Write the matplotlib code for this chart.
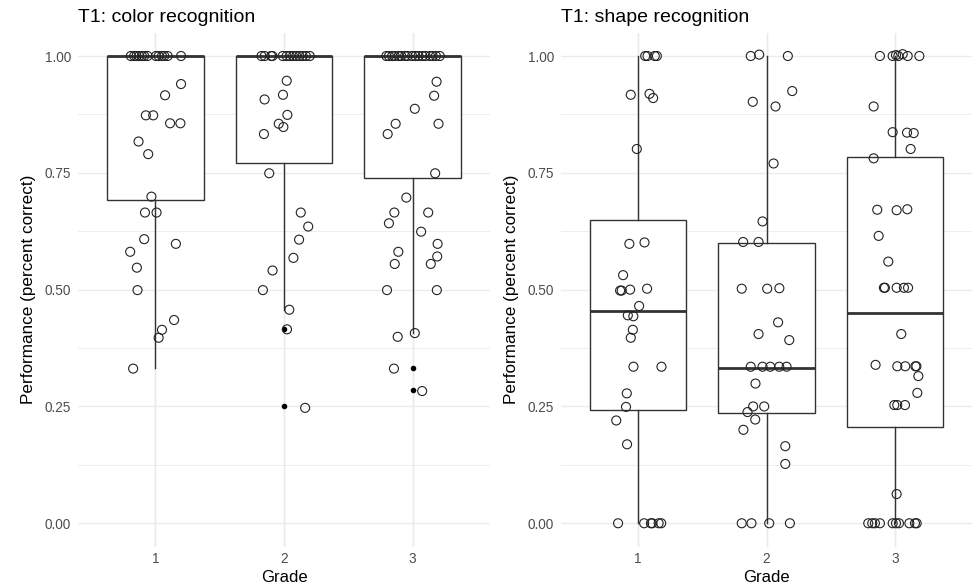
#!/usr/bin/env python3
"""
Boxplots with jittered points for T1 color / shape recognition by grade.
"""

from __future__ import annotations

import matplotlib

matplotlib.use("Agg")
import matplotlib.pyplot as plt
from matplotlib.ticker import MultipleLocator

plt.rcParams["font.family"] = ["Liberation Sans", "DejaVu Sans"]

grades = [1, 2, 3]
grade_labels = ["1", "2", "3"]
y_ticks = [0.0, 0.25, 0.5, 0.75, 1.0]
y_tick_labels = ["0.00", "0.25", "0.50", "0.75", "1.00"]

# --- T1 colour recognition: box statistics per grade ---
color_q1 = [0.691, 0.770, 0.738]
color_med = [1.0, 1.0, 1.0]
color_q3 = [1.0, 1.0, 1.0]
color_lo = [0.333, 0.457, 0.407]
color_hi = [1.0, 1.0, 1.0]
color_fliers = [[], [0.4167, 0.25], [0.3333, 0.2857]]

# --- T1 colour recognition: jittered observations (value, horizontal jitter) ---
color_g1_y = [1.0, 1.0, 1.0, 1.0, 1.0, 1.0, 1.0, 1.0, 1.0, 1.0, 1.0, 1.0, 1.0,
              0.94, 0.916, 0.873, 0.873, 0.856, 0.856, 0.817, 0.79, 0.699, 0.665,
              0.665, 0.608, 0.598, 0.581, 0.547, 0.499, 0.435, 0.414, 0.397, 0.331]
color_g1_dx = [-0.19, -0.164, -0.146, -0.125, -0.104, -0.086, -0.06, 0.005, 0.026, 0.052, 0.07, 0.096, 0.2,
               0.2, 0.076, -0.073, -0.016, 0.115, 0.195, -0.13, -0.055, -0.03, -0.08,
               0.01, -0.086, 0.16, -0.195, -0.143, -0.138, 0.146, 0.052, 0.026, -0.172]

color_g2_y = [1.0, 1.0, 1.0, 1.0, 1.0, 1.0, 1.0, 1.0, 1.0, 1.0, 1.0, 1.0, 1.0,
              0.947, 0.907, 0.917, 0.874, 0.855, 0.848, 0.833, 0.749, 0.665, 0.635,
              0.607, 0.568, 0.541, 0.499, 0.457, 0.415, 0.247]
color_g2_dx = [-0.175, -0.15, -0.1, -0.09, -0.01, 0.02, 0.045, 0.07, 0.095, 0.12, 0.145, 0.17, 0.2,
               0.021, -0.151, -0.008, 0.026, -0.041, -0.005, -0.156, -0.115, 0.13, 0.188,
               0.117, 0.073, -0.089, -0.164, 0.041, 0.023, 0.164]

color_g3_y = [1.0, 1.0, 1.0, 1.0, 1.0, 1.0, 1.0, 1.0, 1.0, 1.0, 1.0, 1.0, 1.0, 1.0, 1.0, 1.0, 1.0,
              0.945, 0.915, 0.887, 0.855, 0.855, 0.833, 0.749, 0.697, 0.665, 0.665, 0.642,
              0.624, 0.598, 0.581, 0.571, 0.555, 0.555, 0.499, 0.499, 0.407, 0.399, 0.331, 0.283]
color_g3_dx = [-0.205, -0.185, -0.16, -0.14, -0.11, -0.09, -0.06, -0.04, -0.005, 0.02, 0.045, 0.075,
               0.1, 0.135, 0.155, 0.18, 0.21,
               0.185, 0.166, 0.016, -0.133, 0.2, -0.195, 0.174, -0.05, -0.143, 0.12, -0.185,
               0.065, 0.193, -0.112, 0.19, -0.14, 0.14, -0.2, 0.187, 0.016, -0.117, -0.146, 0.073]

# --- T1 shape recognition: box statistics per grade ---
shape_q1 = [0.243, 0.235, 0.205]
shape_med = [0.455, 0.333, 0.451]
shape_q3 = [0.65, 0.60, 0.784]
shape_lo = [0.0, 0.0, 0.0]
shape_hi = [1.0, 1.0, 1.0]
shape_fliers = [[], [], []]

# --- T1 shape recognition: jittered observations ---
shape_g1_y = [1.0, 1.0, 1.0, 1.0, 0.917, 0.919, 0.91, 0.801, 0.598, 0.601, 0.531, 0.498, 0.498,
              0.5, 0.502, 0.465, 0.445, 0.443, 0.414, 0.397, 0.335, 0.335, 0.278, 0.249, 0.22,
              0.169, 0.0, 0.0, 0.0, 0.0, 0.0, 0.0]
shape_g1_dx = [0.055, 0.073, 0.13, 0.146, -0.057, 0.089, 0.117, -0.01, -0.068, 0.05, -0.117, -0.14, -0.128,
               -0.062, 0.07, 0.008, -0.08, -0.037, -0.041, -0.057, -0.036, 0.182, -0.088, -0.094, -0.17,
               -0.086, -0.156, 0.047, 0.1, 0.11, 0.16, 0.18]

shape_g2_y = [1.0, 1.003, 1.0, 0.925, 0.902, 0.892, 0.77, 0.646, 0.602, 0.602, 0.502, 0.502, 0.503,
              0.43, 0.405, 0.392, 0.335, 0.335, 0.335, 0.335, 0.335, 0.299, 0.25, 0.25, 0.238,
              0.222, 0.2, 0.165, 0.127, 0.0, 0.0, 0.0, 0.0]
shape_g2_dx = [-0.123, -0.057, 0.166, 0.2, -0.107, 0.07, 0.055, -0.031, -0.182, -0.062, -0.193, 0.005, 0.1,
               0.09, -0.062, 0.177, -0.123, -0.031, 0.029, 0.099, 0.156, -0.086, -0.104, -0.018, -0.148,
               -0.088, -0.18, 0.146, 0.146, -0.193, -0.117, 0.021, 0.182]

shape_g3_y = [1.0, 1.0, 1.002, 1.0, 1.004, 1.0, 1.0, 0.892, 0.837, 0.836, 0.835, 0.801, 0.781,
              0.671, 0.67, 0.672, 0.615, 0.56, 0.504, 0.504, 0.504, 0.504, 0.504, 0.405, 0.339,
              0.336, 0.336, 0.336, 0.336, 0.315, 0.279, 0.253, 0.253, 0.253, 0.0625,
              0.0, 0.0, 0.0, 0.0, 0.0, 0.0, 0.0, 0.0, 0.0, 0.0]
shape_g3_dx = [-0.117, -0.018, 0.008, 0.026, 0.06, 0.099, 0.19, -0.166, -0.018, 0.094, 0.146, 0.122, -0.166,
               -0.138, 0.013, 0.096, -0.127, -0.052, -0.086, -0.078, 0.013, 0.07, 0.102, 0.049, -0.151,
               0.018, 0.08, 0.159, 0.167, 0.182, 0.174, -0.005, 0.018, 0.078, 0.013,
               -0.208, -0.177, -0.156, -0.117, -0.018, 0.008, 0.031, 0.112, 0.156, 0.169]

GRID = "#EBEBEB"
BOX = "#333333"
TICK_TEXT = "#4D4D4D"


def box_stats(q1, med, q3, lo, hi, fliers) -> list[dict]:
    stats = []
    for i in range(len(q1)):
        stats.append({"q1": q1[i], "med": med[i], "q3": q3[i], "whislo": lo[i],
                      "whishi": hi[i], "fliers": fliers[i]})
    return stats


def draw_panel(ax, title: str, stats: list[dict], groups: list[tuple[list, list]]) -> None:
    ax.set_xlim(0.4, 3.6)
    ax.set_ylim(-0.05, 1.05)
    for s in ax.spines.values():
        s.set_visible(False)
    ax.set_yticks(y_ticks, y_tick_labels)
    ax.yaxis.set_minor_locator(MultipleLocator(0.125))
    ax.set_xticks(grades, grade_labels)
    ax.tick_params(which="both", length=0, colors=TICK_TEXT, labelsize=9.8)
    ax.tick_params(axis="y", pad=5)
    ax.tick_params(axis="x", pad=4)
    ax.grid(which="major", color=GRID, linewidth=1.0)
    ax.grid(which="minor", axis="y", color=GRID, linewidth=0.6)
    ax.set_axisbelow(True)

    ax.bxp(
        stats,
        positions=grades,
        widths=0.75,
        showcaps=False,
        patch_artist=True,
        boxprops={"facecolor": "white", "edgecolor": BOX, "linewidth": 1.0},
        whiskerprops={"color": BOX, "linewidth": 1.0},
        medianprops={"color": BOX, "linewidth": 2.0},
        flierprops={"marker": "o", "markerfacecolor": "black", "markeredgecolor": "black",
                    "markersize": 3.0, "linestyle": "none"},
        zorder=2,
    )

    for g, (ys, dxs) in zip(grades, groups):
        xs = [g + d for d in dxs]
        ax.scatter(xs, ys, s=42, facecolors="none", edgecolors="#222222", linewidths=0.8, zorder=3)

    ax.set_title(title, loc="left", fontsize=14, pad=8)
    ax.set_xlabel("Grade", fontsize=12, labelpad=3)
    ax.set_ylabel("Performance (percent correct)", fontsize=12.3, labelpad=6)


def main() -> None:
    fig = plt.figure(figsize=(9.73, 5.85), dpi=100)
    ax_l = fig.add_axes([0.0802, 0.0656, 0.4234, 0.8786])
    ax_r = fig.add_axes([0.5766, 0.0656, 0.4224, 0.8786])

    draw_panel(
        ax_l,
        "T1: color recognition",
        box_stats(color_q1, color_med, color_q3, color_lo, color_hi, color_fliers),
        [(color_g1_y, color_g1_dx), (color_g2_y, color_g2_dx), (color_g3_y, color_g3_dx)],
    )
    draw_panel(
        ax_r,
        "T1: shape recognition",
        box_stats(shape_q1, shape_med, shape_q3, shape_lo, shape_hi, shape_fliers),
        [(shape_g1_y, shape_g1_dx), (shape_g2_y, shape_g2_dx), (shape_g3_y, shape_g3_dx)],
    )

    fig.savefig("out.png", dpi=100, facecolor="white")
    plt.close(fig)


if __name__ == "__main__":
    main()
